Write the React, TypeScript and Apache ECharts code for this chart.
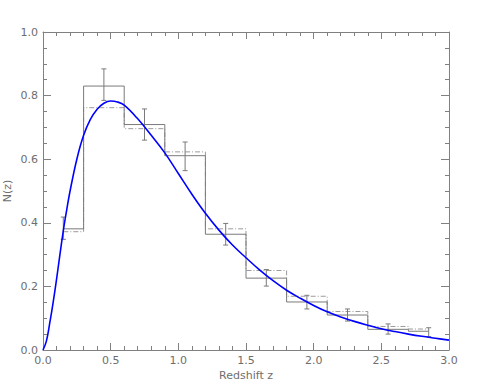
import React, { useEffect, useRef } from "react";
import * as echarts from "echarts";

const binCenters = [0.15, 0.45, 0.75, 1.05, 1.35, 1.65, 1.95, 2.25, 2.55, 2.85];
const solidHist = [0.381, 0.83, 0.709, 0.611, 0.364, 0.226, 0.151, 0.11, 0.065, 0.059];
const dashedHist = [0.372, 0.762, 0.696, 0.623, 0.381, 0.25, 0.169, 0.121, 0.074, 0.066];
const errLow = [0.348, 0.785, 0.66, 0.564, 0.33, 0.201, 0.129, 0.091, 0.05, 0.042];
const errHigh = [0.418, 0.884, 0.758, 0.654, 0.398, 0.253, 0.172, 0.129, 0.082, 0.07];

const curveZ = [0, 0.025, 0.05, 0.075, 0.1, 0.125, 0.15, 0.175, 0.2, 0.25, 0.3, 0.35, 0.4, 0.45, 0.5, 0.55, 0.6, 0.7, 0.8, 0.9, 1.0, 1.1, 1.2, 1.3, 1.4, 1.5, 1.6, 1.7, 1.8, 1.9, 2.0, 2.1, 2.2, 2.3, 2.4, 2.5, 2.6, 2.7, 2.8, 2.9, 3.0];
const curveN = [0, 0.028, 0.085, 0.15, 0.222, 0.3, 0.375, 0.44, 0.5, 0.6, 0.675, 0.725, 0.757, 0.776, 0.783, 0.78, 0.77, 0.727, 0.675, 0.62, 0.555, 0.49, 0.43, 0.377, 0.33, 0.29, 0.252, 0.218, 0.188, 0.163, 0.14, 0.12, 0.104, 0.09, 0.078, 0.067, 0.058, 0.05, 0.043, 0.037, 0.031];

const xTicks = { min: 0, max: 3, interval: 0.5 };
const yTicks = { min: 0, max: 1, interval: 0.2 };

const AXIS = "#808080";
const LABEL = "#6e6e6e";
const FONT = "DejaVu Sans";
const FS = 11;

export default function App() {
  const ref = useRef<HTMLDivElement>(null);
  useEffect(() => {
    if (!ref.current) return;
    const chart = echarts.init(ref.current, null, { renderer: "svg" });
    const baseAxis = {
      axisLine: { show: true, onZero: false, lineStyle: { color: AXIS, width: 1 } },
      splitLine: { show: false },
    };
    const option: any = {
      animation: false,
      grid: { left: 43, right: 42, top: 32, bottom: 32, outerBoundsMode: "none", containLabel: false },
      xAxis: [
        {
          ...baseAxis,
          type: "value",
          ...xTicks,
          position: "bottom",
          name: "Redshift z",
          nameLocation: "middle",
          nameGap: 20,
          nameMoveOverlap: false,
          nameTextStyle: { color: LABEL, fontFamily: FONT, fontSize: FS },
          axisTick: { show: true, inside: true, length: 7, lineStyle: { color: AXIS } },
          minorTick: { show: true, splitNumber: 5, length: 4, lineStyle: { color: AXIS } },
          axisLabel: {
            color: LABEL, fontFamily: FONT, fontSize: FS, margin: 5,
            formatter: (v: number) => v.toFixed(1),
          },
        },
        {
          ...baseAxis,
          type: "value",
          ...xTicks,
          position: "top",
          axisTick: { show: true, inside: true, length: 7, lineStyle: { color: AXIS } },
          minorTick: { show: true, splitNumber: 5, length: 4, lineStyle: { color: AXIS } },
          axisLabel: { show: false },
        },
      ],
      yAxis: [
        {
          ...baseAxis,
          type: "value",
          ...yTicks,
          position: "left",
          name: "N(z)",
          nameLocation: "middle",
          nameGap: 30,
          nameMoveOverlap: false,
          nameRotate: 90,
          nameTextStyle: { color: LABEL, fontFamily: FONT, fontSize: FS },
          axisTick: { show: true, inside: true, length: 8, lineStyle: { color: AXIS } },
          minorTick: { show: true, splitNumber: 4, length: 4, lineStyle: { color: AXIS } },
          axisLabel: {
            color: LABEL, fontFamily: FONT, fontSize: FS, margin: 5,
            formatter: (v: number) => v.toFixed(1),
          },
        },
        {
          ...baseAxis,
          type: "value",
          ...yTicks,
          position: "right",
          axisTick: { show: true, inside: true, length: 8, lineStyle: { color: AXIS } },
          minorTick: { show: true, splitNumber: 4, length: 4, lineStyle: { color: AXIS } },
          axisLabel: { show: false },
        },
      ],
      series: [
        {
          type: "line",
          step: "middle",
          data: binCenters.map((z, i) => [z, dashedHist[i]]),
          showSymbol: false,
          lineStyle: { color: "#9a9a9a", width: 1, type: [5, 2, 1, 2] },
          z: 2,
        },
        {
          type: "line",
          step: "middle",
          data: binCenters.map((z, i) => [z, solidHist[i]]),
          showSymbol: false,
          lineStyle: { color: "#7a7a7a", width: 1 },
          z: 3,
        },
        {
          type: "custom",
          data: binCenters.map((z, i) => [z, errLow[i], errHigh[i]]),
          renderItem: (params: any, api: any) => {
            const lo = api.coord([api.value(0), api.value(1)]);
            const hi = api.coord([api.value(0), api.value(2)]);
            const w = 2.5;
            const style = { stroke: "#7a7a7a", lineWidth: 1 };
            return {
              type: "group",
              children: [
                { type: "line", shape: { x1: lo[0], y1: lo[1], x2: hi[0], y2: hi[1] }, style },
                { type: "line", shape: { x1: lo[0] - w, y1: lo[1], x2: lo[0] + w, y2: lo[1] }, style },
                { type: "line", shape: { x1: hi[0] - w, y1: hi[1], x2: hi[0] + w, y2: hi[1] }, style },
              ],
            };
          },
          z: 4,
        },
        {
          type: "line",
          smooth: 0.4,
          data: curveZ.map((z, i) => [z, curveN[i]]),
          showSymbol: false,
          lineStyle: { color: "#0000ff", width: 1.6 },
          z: 5,
        },
      ],
    };
    chart.setOption(option);
    return () => chart.dispose();
  }, []);
  return <div ref={ref} style={{ width: 491, height: 382, position: "absolute", left: 0, top: 0 }} />;
}
